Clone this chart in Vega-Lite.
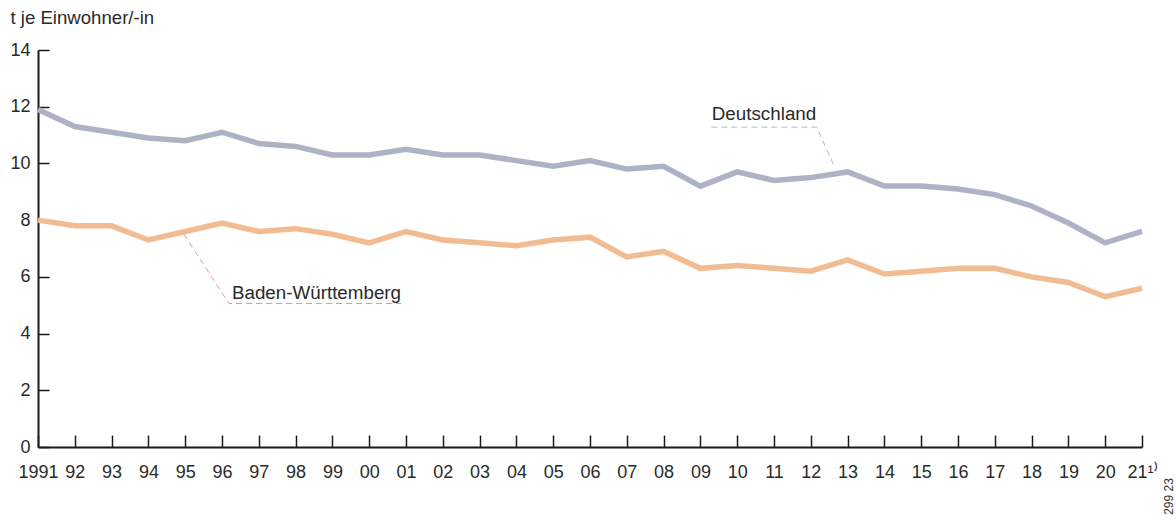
{
  "$schema": "https://vega.github.io/schema/vega-lite/v6.json",
  "width": 1104,
  "height": 397,
  "autosize": {"type": "none"},
  "padding": {"left": 38, "top": 50, "right": 34, "bottom": 68},
  "background": "white",
  "config": {
    "view": {"stroke": null},
    "font": "Liberation Sans",
    "axis": {"grid": false, "labelFont": "Liberation Sans", "labelFontSize": 18, "labelColor": "#2a2a2a", "domainColor": "#1a1a1a", "domainWidth": 2, "tickColor": "#1a1a1a", "tickWidth": 1.5}
  },
  "datasets": {
    "series": [
      {"year": 1991, "value": 11.9, "region": "Deutschland"},
      {"year": 1992, "value": 11.3, "region": "Deutschland"},
      {"year": 1993, "value": 11.1, "region": "Deutschland"},
      {"year": 1994, "value": 10.9, "region": "Deutschland"},
      {"year": 1995, "value": 10.8, "region": "Deutschland"},
      {"year": 1996, "value": 11.1, "region": "Deutschland"},
      {"year": 1997, "value": 10.7, "region": "Deutschland"},
      {"year": 1998, "value": 10.6, "region": "Deutschland"},
      {"year": 1999, "value": 10.3, "region": "Deutschland"},
      {"year": 2000, "value": 10.3, "region": "Deutschland"},
      {"year": 2001, "value": 10.5, "region": "Deutschland"},
      {"year": 2002, "value": 10.3, "region": "Deutschland"},
      {"year": 2003, "value": 10.3, "region": "Deutschland"},
      {"year": 2004, "value": 10.1, "region": "Deutschland"},
      {"year": 2005, "value": 9.9, "region": "Deutschland"},
      {"year": 2006, "value": 10.1, "region": "Deutschland"},
      {"year": 2007, "value": 9.8, "region": "Deutschland"},
      {"year": 2008, "value": 9.9, "region": "Deutschland"},
      {"year": 2009, "value": 9.2, "region": "Deutschland"},
      {"year": 2010, "value": 9.7, "region": "Deutschland"},
      {"year": 2011, "value": 9.4, "region": "Deutschland"},
      {"year": 2012, "value": 9.5, "region": "Deutschland"},
      {"year": 2013, "value": 9.7, "region": "Deutschland"},
      {"year": 2014, "value": 9.2, "region": "Deutschland"},
      {"year": 2015, "value": 9.2, "region": "Deutschland"},
      {"year": 2016, "value": 9.1, "region": "Deutschland"},
      {"year": 2017, "value": 8.9, "region": "Deutschland"},
      {"year": 2018, "value": 8.5, "region": "Deutschland"},
      {"year": 2019, "value": 7.9, "region": "Deutschland"},
      {"year": 2020, "value": 7.2, "region": "Deutschland"},
      {"year": 2021, "value": 7.6, "region": "Deutschland"},
      {"year": 1991, "value": 8.0, "region": "Baden-Württemberg"},
      {"year": 1992, "value": 7.8, "region": "Baden-Württemberg"},
      {"year": 1993, "value": 7.8, "region": "Baden-Württemberg"},
      {"year": 1994, "value": 7.3, "region": "Baden-Württemberg"},
      {"year": 1995, "value": 7.6, "region": "Baden-Württemberg"},
      {"year": 1996, "value": 7.9, "region": "Baden-Württemberg"},
      {"year": 1997, "value": 7.6, "region": "Baden-Württemberg"},
      {"year": 1998, "value": 7.7, "region": "Baden-Württemberg"},
      {"year": 1999, "value": 7.5, "region": "Baden-Württemberg"},
      {"year": 2000, "value": 7.2, "region": "Baden-Württemberg"},
      {"year": 2001, "value": 7.6, "region": "Baden-Württemberg"},
      {"year": 2002, "value": 7.3, "region": "Baden-Württemberg"},
      {"year": 2003, "value": 7.2, "region": "Baden-Württemberg"},
      {"year": 2004, "value": 7.1, "region": "Baden-Württemberg"},
      {"year": 2005, "value": 7.3, "region": "Baden-Württemberg"},
      {"year": 2006, "value": 7.4, "region": "Baden-Württemberg"},
      {"year": 2007, "value": 6.7, "region": "Baden-Württemberg"},
      {"year": 2008, "value": 6.9, "region": "Baden-Württemberg"},
      {"year": 2009, "value": 6.3, "region": "Baden-Württemberg"},
      {"year": 2010, "value": 6.4, "region": "Baden-Württemberg"},
      {"year": 2011, "value": 6.3, "region": "Baden-Württemberg"},
      {"year": 2012, "value": 6.2, "region": "Baden-Württemberg"},
      {"year": 2013, "value": 6.6, "region": "Baden-Württemberg"},
      {"year": 2014, "value": 6.1, "region": "Baden-Württemberg"},
      {"year": 2015, "value": 6.2, "region": "Baden-Württemberg"},
      {"year": 2016, "value": 6.3, "region": "Baden-Württemberg"},
      {"year": 2017, "value": 6.3, "region": "Baden-Württemberg"},
      {"year": 2018, "value": 6.0, "region": "Baden-Württemberg"},
      {"year": 2019, "value": 5.8, "region": "Baden-Württemberg"},
      {"year": 2020, "value": 5.3, "region": "Baden-Württemberg"},
      {"year": 2021, "value": 5.6, "region": "Baden-Württemberg"}
    ],
    "connectors": [
      {"group": "Deutschland", "o": 1, "year": 2009.3, "value": 11.28},
      {"group": "Deutschland", "o": 2, "year": 2012.16, "value": 11.28},
      {"group": "Deutschland", "o": 3, "year": 2012.66, "value": 9.83},
      {"group": "Baden-Württemberg", "o": 1, "year": 1994.96, "value": 7.51},
      {"group": "Baden-Württemberg", "o": 2, "year": 1996.19, "value": 5.06},
      {"group": "Baden-Württemberg", "o": 3, "year": 2000.87, "value": 5.06}
    ],
    "labels": [
      {"label": "Deutschland", "year": 2009.31, "value": 11.53},
      {"label": "Baden-Württemberg", "year": 1996.27, "value": 5.21}
    ]
  },
  "encoding": {
    "x": {
      "field": "year", "type": "quantitative",
      "scale": {"domain": [1991, 2021], "nice": false, "zero": false},
      "axis": {
        "values": [1991, 1992, 1993, 1994, 1995, 1996, 1997, 1998, 1999, 2000, 2001, 2002, 2003, 2004, 2005, 2006, 2007, 2008, 2009, 2010, 2011, 2012, 2013, 2014, 2015, 2016, 2017, 2018, 2019, 2020, 2021],
        "labelExpr": "datum.value == 1991 ? '1991' : (datum.value == 2021 ? '21¹⁾' : substring(toString(datum.value), 2))",
        "tickSize": -12,
        "labelPadding": 28,
        "labelFlush": false,
        "labelOverlap": false,
        "title": "299 23",
        "titleAngle": 270,
        "titleFontSize": 12,
        "titleFontWeight": "normal",
        "titleColor": "#333333",
        "titleX": 1130,
        "titleY": 49,
        "titleAlign": "center",
        "titleBaseline": "middle"
      }
    },
    "y": {
      "field": "value", "type": "quantitative",
      "scale": {"domain": [0, 14], "nice": false},
      "axis": {
        "values": [0, 2, 4, 6, 8, 10, 12, 14],
        "tickSize": -11,
        "labelPadding": 19,
        "title": "t je Einwohner/-in",
        "titleAngle": 0,
        "titleFontSize": 18.6,
        "titleFontWeight": "normal",
        "titleColor": "#2a2a2a",
        "titleX": -28,
        "titleY": -27,
        "titleAlign": "left",
        "titleBaseline": "alphabetic"
      }
    }
  },
  "layer": [
    {
      "data": {"name": "series"},
      "mark": {"type": "line", "strokeWidth": 5.5, "strokeJoin": "miter", "strokeCap": "butt"},
      "encoding": {
        "color": {"field": "region", "type": "nominal", "legend": null,
          "scale": {"domain": ["Deutschland", "Baden-Württemberg"], "range": ["#adb2c5", "#f2bc92"]}}
      }
    },
    {
      "data": {"name": "connectors"},
      "transform": [{"filter": "datum.group == 'Deutschland'"}],
      "mark": {"type": "line", "strokeWidth": 1, "strokeDash": [6, 4], "color": "#b4b9cf"},
      "encoding": {"order": {"field": "o", "type": "quantitative"}}
    },
    {
      "data": {"name": "connectors"},
      "transform": [{"filter": "datum.group == 'Baden-Württemberg'"}],
      "mark": {"type": "line", "strokeWidth": 1, "strokeDash": [6, 4], "color": "#eb9a80"},
      "encoding": {"order": {"field": "o", "type": "quantitative"}}
    },
    {
      "data": {"name": "labels"},
      "mark": {"type": "text", "align": "left", "baseline": "alphabetic", "fontSize": 18.8, "color": "#2a2a2a", "font": "Liberation Sans"},
      "encoding": {"text": {"field": "label"}}
    }
  ]
}
